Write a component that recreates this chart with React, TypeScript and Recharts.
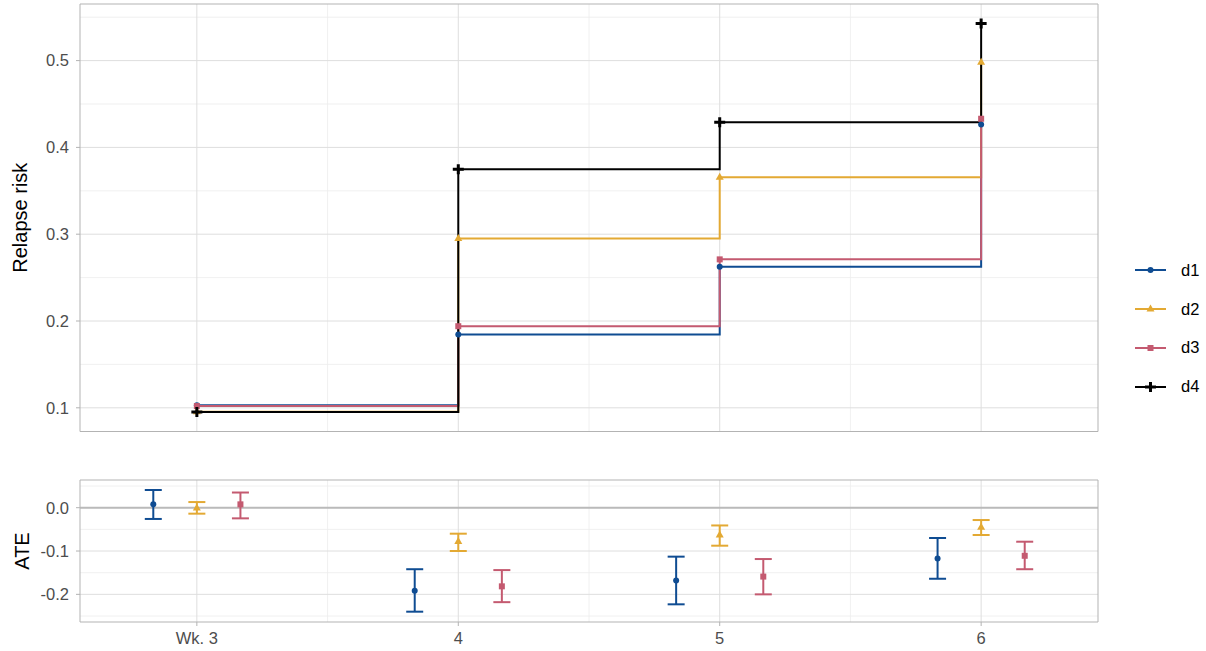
import React from 'react';
import {
    LineChart,
    Line,
    ComposedChart,
    Scatter,
    ErrorBar,
    XAxis,
    YAxis,
    CartesianGrid,
    ReferenceArea,
    Label
} from 'recharts';

const FONT = '"Liberation Sans", Arial, sans-serif';

// weeks on the x axis
const WEEKS = [3, 4, 5, 6];
const WEEK_LABELS = ['Wk. 3', '4', '5', '6'];
const X_DOMAIN = [2.553, 6.447];
const X_MINOR = [3.5, 4.5, 5.5];

// relapse risk per regime
const RISK_D1 = [0.103, 0.1845, 0.2625, 0.4265];
const RISK_D2 = [0.0955, 0.295, 0.3655, 0.498];
const RISK_D3 = [0.102, 0.194, 0.271, 0.433];
const RISK_D4 = [0.0951, 0.3747, 0.429, 0.5428];
const RISK_TICKS = [0.1, 0.2, 0.3, 0.4, 0.5];
const RISK_MINOR = [0.15, 0.25, 0.35, 0.45, 0.55];
const RISK_DOMAIN = [0.0727, 0.5652];

// ATE vs d4, with interval bounds
const ATE_D1 = [0.0077, -0.1915, -0.168, -0.117];
const LO_D1 = [-0.026, -0.24, -0.223, -0.164];
const HI_D1 = [0.0408, -0.142, -0.113, -0.07];
const ATE_D2 = [-0.001, -0.078, -0.063, -0.045];
const LO_D2 = [-0.0138, -0.1, -0.0877, -0.063];
const HI_D2 = [0.013, -0.06, -0.041, -0.0285];
const ATE_D3 = [0.0077, -0.1815, -0.159, -0.111];
const LO_D3 = [-0.0246, -0.218, -0.2, -0.142];
const HI_D3 = [0.035, -0.144, -0.1185, -0.0785];
const ATE_TICKS = [0, -0.1, -0.2];
const ATE_MINOR = [0.05, -0.05, -0.15, -0.25];
const ATE_DOMAIN = [-0.2638, 0.0639];

const SERIES = [
    { key: 'd1', color: '#0f4c92', shape: 'circle', risk: RISK_D1 },
    { key: 'd2', color: '#e3a933', shape: 'triangle', risk: RISK_D2 },
    { key: 'd3', color: '#c45a70', shape: 'square', risk: RISK_D3 },
    { key: 'd4', color: '#000000', shape: 'plus', risk: RISK_D4 },
];

const ATE_SERIES = [
    { key: 'd1', color: '#0f4c92', shape: 'circle', ate: ATE_D1, lo: LO_D1, hi: HI_D1, dodge: -1 / 6 },
    { key: 'd2', color: '#e3a933', shape: 'triangle', ate: ATE_D2, lo: LO_D2, hi: HI_D2, dodge: 0 },
    { key: 'd3', color: '#c45a70', shape: 'square', ate: ATE_D3, lo: LO_D3, hi: HI_D3, dodge: 1 / 6 },
];

const riskData = WEEKS.map((w, i) => {
    const row: any = { week: w };
    SERIES.forEach(s => { row[s.key] = s.risk[i]; });
    return row;
});

const ateData = ATE_SERIES.map(s =>
    WEEKS.map((w, i) => ({
        x: w + s.dodge,
        y: s.ate[i],
        err: [s.ate[i] - s.lo[i], s.hi[i] - s.ate[i]],
    }))
);

const marker = (shape: string, cx: number, cy: number, color: string, key?: any) => {
    if (cx == null || cy == null) return <g key={key} />;
    if (shape === 'circle') return <circle key={key} cx={cx} cy={cy} r={3} fill={color} />;
    if (shape === 'triangle')
        return <polygon key={key} points={`${cx},${cy - 4.5} ${cx - 4},${cy + 2.5} ${cx + 4},${cy + 2.5}`} fill={color} />;
    if (shape === 'square') return <rect key={key} x={cx - 3} y={cy - 3} width={6} height={6} fill={color} />;
    return (
        <g key={key} stroke={color} strokeWidth={3}>
            <line x1={cx - 5.5} y1={cy} x2={cx + 5.5} y2={cy} />
            <line x1={cx} y1={cy - 5} x2={cx} y2={cy + 5} />
        </g>
    );
};

const tickStyle = { fill: '#4d4d4d', fontSize: 16.5, fontFamily: FONT };

const axisTitle = (text: string, cx: number, cy: number) => () => (
    <text
        x={cx}
        y={cy}
        transform={`rotate(-90 ${cx} ${cy})`}
        textAnchor="middle"
        fontSize={20}
        fontFamily={FONT}
        fill="#000"
    >
        {text}
    </text>
);

const App: React.FC = () => {
    return (
        <div style={{ position: 'absolute', left: 0, top: 0, width: 1206, height: 651, background: '#fff' }}>
            {/* Top panel: relapse risk step curves */}
            <div style={{ position: 'absolute', left: 0, top: 0 }}>
                <LineChart width={1206} height={440} data={riskData} margin={{ top: 4, right: 108, bottom: 8.5, left: 0 }}>
                    <CartesianGrid horizontalValues={RISK_MINOR} verticalValues={X_MINOR} stroke="#ececec" strokeWidth={0.8} />
                    <CartesianGrid horizontalValues={RISK_TICKS} verticalValues={WEEKS} stroke="#dedede" strokeWidth={1} />
                    <XAxis dataKey="week" type="number" domain={X_DOMAIN} hide allowDataOverflow />
                    <YAxis
                        type="number"
                        domain={RISK_DOMAIN}
                        ticks={RISK_TICKS}
                        width={80}
                        axisLine={false}
                        tickSize={4}
                        tickMargin={7}
                        tickLine={{ stroke: '#b3b3b3' }}
                        tick={tickStyle}
                        tickFormatter={(v: number) => v.toFixed(1)}
                        allowDataOverflow
                    >
                        <Label content={axisTitle('Relapse risk', 27, 217.7)} />
                    </YAxis>
                    <ReferenceArea
                        x1={X_DOMAIN[0]}
                        x2={X_DOMAIN[1]}
                        y1={RISK_DOMAIN[0]}
                        y2={RISK_DOMAIN[1]}
                        fill="none"
                        stroke="#b3b3b3"
                        strokeWidth={1}
                        ifOverflow="visible"
                    />
                    {SERIES.map(s => (
                        <Line
                            key={s.key}
                            type="stepAfter"
                            dataKey={s.key}
                            stroke={s.color}
                            strokeWidth={2}
                            isAnimationActive={false}
                            dot={(p: any) => marker(s.shape, p.cx, p.cy, s.color, `${s.key}-${p.index}`)}
                            activeDot={false}
                        />
                    ))}
                </LineChart>
            </div>

            {/* Bottom panel: ATE with intervals */}
            <div style={{ position: 'absolute', left: 0, top: 470 }}>
                <ComposedChart width={1206} height={181} margin={{ top: 10, right: 108, bottom: 0, left: 0 }}>
                    <CartesianGrid horizontalValues={ATE_MINOR} verticalValues={X_MINOR} stroke="#ececec" strokeWidth={0.8} />
                    <CartesianGrid horizontalValues={ATE_TICKS} verticalValues={WEEKS} stroke="#dedede" strokeWidth={1} />
                    <CartesianGrid horizontalValues={[0]} vertical={false} stroke="#bababa" strokeWidth={2} />
                    <XAxis
                        dataKey="x"
                        type="number"
                        domain={X_DOMAIN}
                        ticks={WEEKS}
                        height={29}
                        axisLine={false}
                        tickSize={4}
                        tickMargin={6}
                        tickLine={{ stroke: '#b3b3b3' }}
                        tick={tickStyle}
                        tickFormatter={(v: number) => WEEK_LABELS[WEEKS.indexOf(v)]}
                        allowDataOverflow
                    />
                    <YAxis
                        dataKey="y"
                        type="number"
                        domain={ATE_DOMAIN}
                        ticks={ATE_TICKS}
                        width={80}
                        axisLine={false}
                        tickSize={4}
                        tickMargin={7}
                        tickLine={{ stroke: '#b3b3b3' }}
                        tick={tickStyle}
                        tickFormatter={(v: number) => v.toFixed(1)}
                        allowDataOverflow
                    >
                        <Label content={axisTitle('ATE', 28.5, 81)} />
                    </YAxis>
                    <ReferenceArea
                        x1={X_DOMAIN[0]}
                        x2={X_DOMAIN[1]}
                        y1={ATE_DOMAIN[0]}
                        y2={ATE_DOMAIN[1]}
                        fill="none"
                        stroke="#b3b3b3"
                        strokeWidth={1}
                        ifOverflow="visible"
                    />
                    {ATE_SERIES.map((s, si) => (
                        <Scatter
                            key={s.key}
                            data={ateData[si]}
                            dataKey="y"
                            fill={s.color}
                            isAnimationActive={false}
                            shape={(p: any) => marker(s.shape, p.cx, p.cy, s.color)}
                        >
                            <ErrorBar dataKey="err" direction="y" width={8.5} stroke={s.color} strokeWidth={2} isAnimationActive={false} />
                        </Scatter>
                    ))}
                </ComposedChart>
            </div>

            {/* Legend */}
            <div style={{ position: 'absolute', left: 1133, top: 251 }}>
                {SERIES.map(s => (
                    <div key={s.key} style={{ display: 'flex', alignItems: 'center', height: 38.8 }}>
                        <svg width={36} height={14}>
                            <line x1={2} y1={7} x2={33} y2={7} stroke={s.color} strokeWidth={2} />
                            {marker(s.shape, 17.5, 7, s.color)}
                        </svg>
                        <span style={{ marginLeft: 12, fontSize: 16.5, fontFamily: FONT, color: '#000' }}>{s.key}</span>
                    </div>
                ))}
            </div>
        </div>
    );
};

export default App;
